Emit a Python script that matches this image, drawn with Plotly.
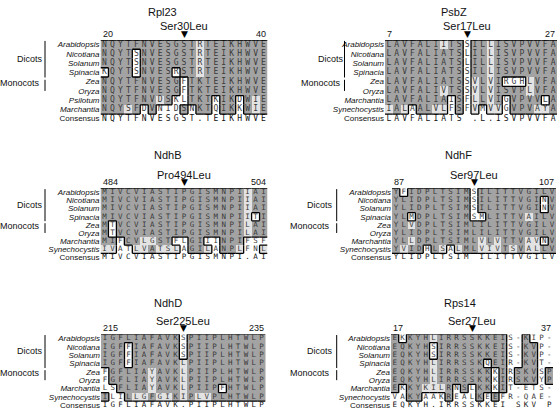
import re
import plotly.graph_objects as go

W, H = 558, 419

DICOTS = ["Arabidopsis", "Nicotiana", "Solanum", "Spinacia"]
MONOCOTS = ["Zea", "Oryza"]

# ---------------- Rpl23 ----------------
RPL23_TITLE = "Rpl23"
RPL23_SITE = "Ser30Leu"
RPL23_ENDS = ["20", "40"]
RPL23_SPECIES = DICOTS + MONOCOTS + ["Psilotum", "Marchantia"]
RPL23_SEQS = [
    "NQYTFNVESGSTRTEIKHWVE",
    "NQYTSNVESGSTRTEIKHWVE",
    "NQYTSNVESGSTRTEIKHWVE",
    "KQYTSNVESRSTRTEIKHWVE",
    "NQYTFNVESGFTKTEIKHWVE",
    "NQYTFNVESGFTKTEIKHWVE",
    "NQYTFNVDSKLTKTKIKDWIE",
    "NQYSFDVNIDSNKTQIKKWIE",
]
RPL23_CONS = "NQYTFNVESGST.TEIKHWVE"
RPL23_SHADE = [
    "ddddddddddddldddddddd",
    "ddddwdddddddldddddddd",
    "ddddwdddddddldddddddd",
    "wdddwddddwddldddddddd",
    "ddddddddddwdddddddddd",
    "ddddddddddwdddddddddd",
    "dddddddldwwdddwddwdld",
    "dddldwdwwwdwddwddwdld",
]

# ---------------- PsbZ ----------------
PSBZ_TITLE = "PsbZ"
PSBZ_SITE = "Ser17Leu"
PSBZ_ENDS = ["7", "27"]
PSBZ_SPECIES = DICOTS + MONOCOTS + ["Marchantia", "Synechocystis"]
PSBZ_SEQS = [
    "LAVFALIITSSILLISVPVVFA",
    "LAVFALIATSLILLISVPVVFA",
    "LAVFALIATSLILLISVPVVFA",
    "LAVFALIATSSILLISVPVVFA",
    "LAVFALIATSSVLVIRGHLVFA",
    "LAVFALIVTSSVLVISVPLVFA",
    "LAVFALIAISFLLVIGVPVVLA",
    "IALAALVLFSFVMVVGVPVAYA",
]
PSBZ_CONS = "LAVFALIATS .L.ISVPVVFA"
PSBZ_SHADE = [
    "dddddddlddwddldddddddd",
    "ddddddddddwddldddddddd",
    "ddddddddddwddldddddddd",
    "ddddddddddwddldddddddd",
    "ddddddddddwldldwwwlddd",
    "dddddddlddwldlddddlddd",
    "ddddddddwdwldldwddddwd",
    "ldlwddllwdwlwllwdddlld",
]

# ---------------- NdhB ----------------
NDHB_TITLE = "NdhB"
NDHB_SITE = "Pro494Leu"
NDHB_ENDS = ["484", "504"]
NDHB_SPECIES = DICOTS + MONOCOTS + ["Marchantia", "Synechocystis"]
NDHB_SEQS = [
    "MIVCVIASTIPGISMNPIIAI",
    "MIVCVIASTIPGISMNPIIAI",
    "MIVCVIASTIPGISMNPIIAI",
    "MIVCVIASTIPGISMNPIITI",
    "MTVCVIASTIPGISMNPILAI",
    "MTVCVIASTIPGISMNPILAI",
    "MIFCVLGSTFLGIIINPIFSF",
    "IVATLVATSLAGILANPLFNL",
]
NDHB_CONS = "MIVCVIASTIPGISMNPI.AI"
NDHB_SHADE = [
    "ddddddddddddddddddldd",
    "ddddddddddddddddddldd",
    "ddddddddddddddddddldd",
    "ddddddddddddddddddlwd",
    "dwddddddddddddddddldd",
    "dwddddddddddddddddldd",
    "ddwddllddwwddwwdddwww",
    "llwwlldlllwddlwddlwwl",
]

# ---------------- NdhF ----------------
NDHF_TITLE = "NdhF"
NDHF_SITE = "Ser97Leu"
NDHF_ENDS = ["87", "107"]
NDHF_SPECIES = DICOTS + MONOCOTS + ["Marchantia", "Synechocystis"]
NDHF_SEQS = [
    "YFIDPLTSIMSILITTVGILV",
    "YLIDPLTSIMSILITTVGINV",
    "YLIDPLTSIMSILITTVGINV",
    "YLMDPLTSIMSMLITTVAILV",
    "YLVDPLTSIMLILITTVGILV",
    "YLIDPLTSIMLILITTVGILV",
    "YLLDPLTSIMLVLVTTVAVNV",
    "YVIDHLSALMLVIVTSVALLV",
]
NDHF_CONS = "YLIDPLTSIM ILITTVGILV"
NDHF_SHADE = [
    "dwddddddddwdddddddddd",
    "ddddddddddwddddddddwd",
    "ddddddddddwddddddddwd",
    "ddwdddddddwwdddddlddd",
    "ddlddddddddddddddddd" + "d",
    "ddddddddddddddddddddd",
    "ddldddddddd" + "ldldddllwd",
    "dlddwdlwldd" + "llldldlldd",
]

# ---------------- NdhD ----------------
NDHD_TITLE = "NdhD"
NDHD_SITE = "Ser225Leu"
NDHD_ENDS = ["215", "235"]
NDHD_SPECIES = DICOTS + MONOCOTS + ["Marchantia", "Synechocystis"]
NDHD_SEQS = [
    "IGFLIAFAVKSPIIPLHTWLP",
    "IGFFIAFAVKSPIIPLHTWLP",
    "IGFFIAFAVKSPIIPLHTWLP",
    "IGFFIAFAVKLPIIPLHTWLP",
    "FGFLIAYAVKLPIIPLHTWLP",
    "FGFLIAYAVKLPIIPLHTWLP",
    "LSFLIAYAVKLPIIPFHTWLP",
    "ILILLGFGIKIPLVPLHTWLP",
]
NDHD_CONS = "IGFLIAFAVK.PIIPLHTWLP"
NDHD_SHADE = [
    "ddddddddddwdddddddddd",
    "dddwddddddwdddddddddd",
    "dddwddddddwdddddddddd",
    "dddwddddddldddddddddd",
    "wdddddldddldddddddddd",
    "wdddddldddldddddddddd",
    "wwddddldddl" + "ddddwddddd",
    "dwwdlldlldldllddddddd",
]

# ---------------- Rps14 ----------------
RPS14_TITLE = "Rps14"
RPS14_SITE = "Ser27Leu"
RPS14_ENDS = ["17", "37"]
RPS14_SPECIES = DICOTS + MONOCOTS + ["Marchantia", "Synechocystis"]
RPS14_SEQS = [
    "EKKYHLIRRSSKKEIS-KIP-",
    "EQKYHSIRRSSKKEIS-KVP-",
    "EQKYHSIRRSSKKEIS-KVP-",
    "EQKYHLIRRSSKQEIR-KVT-",
    "EQKYHLIRRSSKKKIRSKVSP",
    "EQKYHLIRRSSKKKIRSKVYP",
    "EKKYKILRNSLKKKIT-ETS-",
    "VAKYAAKREALKEEFR-QAE-",
]
RPS14_CONS = "EQKYH.IRRSSKKEI SKV P"
RPS14_SHADE = [
    "dwdddldddddddddwwdwww",
    "dddddwdddddddddwwddww",
    "dddddwdddddddddwwddww",
    "dddddlddddddwddwwddww",
    "dddddldddddddwdwdddwd",
    "dddddldddddddwdwdddwd",
    "dwddllldwdwddwdwwwwww",
    "wwddwwwdwwwdwdwwwwwww",
]

PANELS = [
    (RPL23_TITLE, RPL23_SITE, RPL23_ENDS, RPL23_SPECIES, RPL23_SEQS, RPL23_CONS, RPL23_SHADE),
    (PSBZ_TITLE, PSBZ_SITE, PSBZ_ENDS, PSBZ_SPECIES, PSBZ_SEQS, PSBZ_CONS, PSBZ_SHADE),
    (NDHB_TITLE, NDHB_SITE, NDHB_ENDS, NDHB_SPECIES, NDHB_SEQS, NDHB_CONS, NDHB_SHADE),
    (NDHF_TITLE, NDHF_SITE, NDHF_ENDS, NDHF_SPECIES, NDHF_SEQS, NDHF_CONS, NDHF_SHADE),
    (NDHD_TITLE, NDHD_SITE, NDHD_ENDS, NDHD_SPECIES, NDHD_SEQS, NDHD_CONS, NDHD_SHADE),
    (RPS14_TITLE, RPS14_SITE, RPS14_ENDS, RPS14_SPECIES, RPS14_SEQS, RPS14_CONS, RPS14_SHADE),
]

# layout geometry in pixels: grid box (x0, x1, y0, y1), title centre, group label x's, bar x
GEOM = [
    dict(box=(100.5, 267.5, 40.0, 123.3), title=(162, 12), dic=30, mon=20, bar=45, fs=8),
    dict(box=(385.0, 557.0, 40.0, 123.3), title=(454, 12), dic=331, mon=320.5, bar=344.5, fs=8),
    dict(box=(100.5, 267.5, 188.3, 261.4), title=(168, 155), dic=30, mon=20, bar=45, fs=7.5),
    dict(box=(392.0, 556.0, 188.3, 261.4), title=(458, 155), dic=320, mon=310, bar=336.7, fs=7.5),
    dict(box=(101.0, 265.5, 334.2, 409.4), title=(168, 303), dic=30, mon=20, bar=45, fs=7.5),
    dict(box=(391.0, 553.0, 334.2, 409.4), title=(460, 303), dic=320, mon=310, bar=336.7, fs=7.5),
]

DARK = "#a3a3a3"
LIGHT = "#e3e3e3"
LEVEL = {"w": 0, "l": 1, "d": 2}
SANS = "Liberation Sans"
MONO = "DejaVu Sans Mono"


def outline(shade):
    R, C = len(shade), len(shade[0])
    nw = [[ch != "w" for ch in row] for row in shade]
    xs, ys = [], []

    def seg(x0, y0, x1, y1):
        xs.extend([x0, x1, None])
        ys.extend([y0, y1, None])

    for r in range(R):
        for c in range(C):
            if c + 1 < C and nw[r][c] != nw[r][c + 1]:
                seg(c + 0.5, r - 0.5, c + 0.5, r + 0.5)
            if r + 1 < R and nw[r][c] != nw[r + 1][c]:
                seg(c - 0.5, r + 0.5, c + 0.5, r + 0.5)
            if r == 0 and nw[r][c]:
                seg(c - 0.5, -0.5, c + 0.5, -0.5)
            if r == R - 1 and nw[r][c]:
                seg(c - 0.5, R - 0.5, c + 0.5, R - 0.5)
    return xs, ys


fig = go.Figure()
annotations = []
shapes = []

for i, (panel, g) in enumerate(zip(PANELS, GEOM)):
    title, site, ends, species, seqs, cons, shade = panel
    sfx = "" if i == 0 else str(i + 1)
    xa, ya = "x" + sfx, "y" + sfx
    ncol = len(cons)
    nrow = len(seqs)

    z = [[LEVEL[ch] for ch in row] for row in shade]
    fig.add_trace(go.Heatmap(
        z=z, x=list(range(ncol)), y=list(range(nrow)), xaxis=xa, yaxis=ya,
        zmin=0, zmax=2, showscale=False, hoverinfo="skip",
        colorscale=[[0, "#ffffff"], [0.33, "#ffffff"], [0.34, LIGHT], [0.66, LIGHT],
                    [0.67, DARK], [1, DARK]],
    ))

    xs, ys, ts = [], [], []
    for r, s in enumerate(seqs):
        for c, ch in enumerate(s):
            xs.append(c)
            ys.append(r)
            ts.append(ch)
    fig.add_trace(go.Scatter(
        x=xs, y=ys, text=ts, mode="text", xaxis=xa, yaxis=ya, hoverinfo="skip",
        showlegend=False, textposition="middle center",
        textfont=dict(family=MONO, size=g["fs"], color="#3a3a3a"),
    ))
    cx = [c for c, ch in enumerate(cons) if ch != " "]
    ct = [ch for ch in cons if ch != " "]
    fig.add_trace(go.Scatter(
        x=cx, y=[nrow] * len(cx), text=ct, mode="text", xaxis=xa, yaxis=ya,
        hoverinfo="skip", showlegend=False, textposition="middle center",
        textfont=dict(family=MONO, size=g["fs"], color="#111111"),
    ))

    lx, ly = outline(shade)
    fig.add_trace(go.Scatter(
        x=lx, y=ly, mode="lines", xaxis=xa, yaxis=ya, hoverinfo="skip",
        showlegend=False, cliponaxis=False, line=dict(color="black", width=1.3),
    ))

    x0, x1, y0, y1 = g["box"]
    fig.layout["xaxis" + sfx] = dict(
        domain=[x0 / W, x1 / W], range=[-0.5, ncol - 0.5], anchor=ya, automargin=False,
        showticklabels=False, showgrid=False, zeroline=False, showline=False, ticks="",
    )
    fig.layout["yaxis" + sfx] = dict(
        domain=[1 - y1 / H, 1 - y0 / H], range=[nrow + 0.5, -0.5], anchor=xa, automargin=False,
        tickvals=list(range(nrow + 1)),
        ticktext=["<i>%s</i>" % s for s in species] + ["Consensus"],
        tickfont=dict(family=SANS, size=8, color="#111111"),
        showgrid=False, zeroline=False, showline=False, ticks="", ticklen=0,
    )

    site_col = int(re.search(r"\d+", site).group()) - int(ends[0])
    annotations += [
        dict(text=title, xref="paper", yref="paper", x=g["title"][0] / W,
             y=1 - g["title"][1] / H, showarrow=False, xanchor="center", yanchor="middle",
             font=dict(family=SANS, size=11, color="#111111")),
        dict(text=site, xref=xa, yref=ya, x=site_col, y=-0.5, yshift=13.5,
             showarrow=False, xanchor="center", yanchor="middle",
             font=dict(family=SANS, size=11, color="#111111")),
        dict(text="▼", xref=xa, yref=ya, x=site_col, y=-0.5, yshift=6,
             showarrow=False, xanchor="center", yanchor="middle",
             font=dict(family="DejaVu Sans", size=9, color="#000000")),
        dict(text=ends[0], xref=xa, yref=ya, x=-0.5, y=-0.5, yshift=6,
             showarrow=False, xanchor="left", yanchor="middle",
             font=dict(family=SANS, size=9, color="#111111")),
        dict(text=ends[1], xref=xa, yref=ya, x=ncol - 0.5, y=-0.5, yshift=6,
             showarrow=False, xanchor="right", yanchor="middle",
             font=dict(family=SANS, size=9, color="#111111")),
        dict(text="Dicots", xref="paper", yref=ya, x=g["dic"] / W, y=1.5,
             showarrow=False, xanchor="center", yanchor="middle",
             font=dict(family=SANS, size=9, color="#111111")),
        dict(text="Monocots", xref="paper", yref=ya, x=g["mon"] / W, y=4.15,
             showarrow=False, xanchor="center", yanchor="middle",
             font=dict(family=SANS, size=9, color="#111111")),
    ]
    shapes += [
        dict(type="line", xref="paper", yref=ya, x0=g["bar"] / W, x1=g["bar"] / W,
             y0=-0.4, y1=3.55, line=dict(color="black", width=1)),
        dict(type="line", xref="paper", yref=ya, x0=g["bar"] / W, x1=g["bar"] / W,
             y0=3.8, y1=5.0, line=dict(color="black", width=1)),
    ]

fig.update_layout(
    template="none",
    width=W, height=H, margin=dict(l=0, r=0, t=0, b=0, pad=0, autoexpand=False),
    paper_bgcolor="white", plot_bgcolor="white", showlegend=False,
    annotations=annotations, shapes=shapes,
)

fig.write_html(
    "out.html",
    config={"displayModeBar": False, "staticPlot": True},
    post_script="document.body.style.margin='0';document.body.style.overflow='hidden';",
)
